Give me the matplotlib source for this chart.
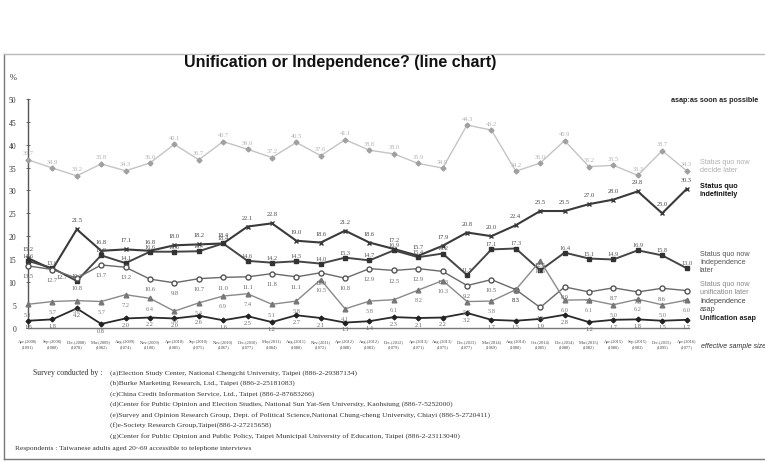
import matplotlib
matplotlib.use("Agg")
import matplotlib.pyplot as plt
from matplotlib.lines import Line2D

# ---------------- data ----------------
survey_dates = ["Apr.(2008)", "Sep.(2008)", "Dec.(2008)", "Mar.(2009)", "Aug.(2009)", "Nov.(2009)",
                "Apr.(2010)", "Sep.(2010)", "Nov.(2010)", "Dec.(2010)", "May(2011)", "Aug.(2011)",
                "Nov.(2011)", "Apr.(2012)", "Aug.(2012)", "Dec.(2012)", "Apr.(2013)", "Aug.(2013)",
                "Dec.(2013)", "Mar.(2014)", "Aug.(2014)", "Oct.(2014)", "Dec.(2014)", "Mar.(2015)",
                "Apr.(2015)", "Sep.(2015)", "Dec.(2015)", "Apr.(2016)"]
sample_sizes = ["(1091)", "(1080)", "(1078)", "(1082)", "(1074)", "(1100)", "(1085)", "(1075)",
                "(1067)", "(1077)", "(1084)", "(1080)", "(1072)", "(1088)", "(1083)", "(1079)",
                "(1071)", "(1075)", "(1077)", "(1069)", "(1080)", "(1085)", "(1088)", "(1082)",
                "(1080)", "(1083)", "(1095)", "(1077)"]

decide_later = [36.7, 34.9, 33.2, 35.8, 34.3, 36.0, 40.1, 36.7, 40.7, 39.0, 37.2, 40.5, 37.6, 41.1,
                38.8, 38.0, 35.9, 34.9, 44.3, 43.2, 34.2, 36.0, 40.9, 35.2, 35.5, 33.3, 38.7, 34.3]
indefinitely = [15.2, 12.7, 21.5, 16.8, 17.1, 16.8, 18.0, 18.2, 18.4, 22.1, 22.8, 19.0, 18.6, 21.2,
                18.6, 17.2, 15.7, 17.9, 20.8, 20.0, 22.4, 25.5, 25.5, 27.0, 28.0, 29.8, 25.0, 30.3]
indep_later = [14.6, 13.0, 10.2, 15.8, 14.1, 16.6, 16.6, 16.7, 18.4, 14.6, 14.2, 14.5, 14.0, 15.3,
               14.7, 16.9, 15.4, 16.2, 11.5, 17.1, 17.3, 12.5, 16.4, 15.1, 14.9, 16.9, 15.8, 13.0]
unif_later = [13.5, 12.7, 10.8, 13.7, 13.2, 10.6, 9.8, 10.7, 11.0, 11.1, 11.8, 11.1, 12.0, 10.8,
              12.9, 12.5, 12.9, 12.3, 9.2, 10.5, 8.3, 4.4, 8.9, 7.8, 8.7, 7.8, 8.6, 8.1]
indep_asap = [5.1, 5.7, 5.9, 5.7, 7.2, 6.4, 3.6, 5.4, 6.9, 7.4, 5.1, 5.8, 10.5, 4.1,
              5.8, 6.1, 8.2, 10.3, 5.7, 5.8, 8.3, 14.6, 6.0, 6.1, 5.0, 6.2, 5.0, 6.0]
unif_asap = [1.5, 1.8, 4.2, 0.8, 2.0, 2.2, 2.0, 2.6, 1.6, 2.5, 1.2, 2.7, 2.1, 1.1,
             1.4, 2.3, 2.1, 2.2, 3.2, 1.7, 1.5, 1.9, 2.8, 1.2, 1.7, 1.8, 1.5, 1.7]

# ---------------- figure ----------------
W, H = 765, 464
fig = plt.figure(figsize=(W / 100, H / 100), dpi=100)
fig.patch.set_facecolor("white")

def fx(px):
    return px / W

def fy(py):
    return 1 - py / H

x0, x1 = 28, 689
y0, y1 = 328.6, 100
ax = fig.add_axes([fx(x0), fy(y0), fx(x1) - fx(x0), fy(y1) - fy(y0)])
ax.set_xlim(0, 27.1)
ax.set_ylim(0, 50)
for s in ["top", "right"]:
    ax.spines[s].set_visible(False)
ax.spines["left"].set_color("#555555")
ax.spines["bottom"].set_color("#777777")
ax.spines["left"].set_linewidth(1.0)
ax.spines["bottom"].set_linewidth(1.0)
ax.set_yticks(range(0, 51, 5))
ax.set_yticklabels([str(v) for v in range(0, 51, 5)], fontsize=5.5, family="Liberation Serif",
                   color="#333333")
ax.tick_params(axis="y", length=3, width=0.6, direction="inout", pad=7, colors="#555555")
ax.tick_params(axis="y", labelcolor="#333333")
n = len(survey_dates)
xs = list(range(n))
ax.set_xticks(xs)
ax.set_xticklabels([d + "\n" + s for d, s in zip(survey_dates, sample_sizes)], fontsize=3.2,
                   family="Liberation Serif", color="#444444", linespacing=1.3)
ax.tick_params(axis="x", length=0, pad=8)
ax.patch.set_alpha(0)

# label placement overrides (index -> offset in points) for crowded spots
series = [
    (decide_later, dict(color="#c4c4c4", lw=1.0, marker="D", ms=2.5, mfc="#a0a0a0", mec="#a0a0a0"), "#b0b0b0", (0, 5), {}),
    (indefinitely, dict(color="#3a3a3a", lw=1.5, marker="x", ms=3.5, mew=1.0), "#444444", (0, 6.8), {1: (7, -5)}),
    (indep_later, dict(color="#454545", lw=1.4, marker="s", ms=3.2, mfc="#333333", mec="#333333"), "#555555", (0, 4), {}),
    (unif_later, dict(color="#6a6a6a", lw=1.0, marker="o", ms=3.6, mfc="white", mec="#555555"), "#666666", (0, -7), {}),
    (indep_asap, dict(color="#8a8a8a", lw=1.0, marker="^", ms=3.4, mfc="#777777", mec="#777777"), "#7a7a7a", (0, -7), {}),
    (unif_asap, dict(color="#2a2a2a", lw=1.3, marker="D", ms=2.4, mfc="#222222", mec="#222222"), "#666666", (0, -4.5), {}),
]
for vals, style, lcol, off, special in series:
    ax.plot(xs, vals, clip_on=False, zorder=3, **style)
    for xi, v in zip(xs, vals):
        ax.annotate(f"{v:.1f}", (xi, v), xytext=special.get(xi, off), textcoords="offset points",
                    ha="center", va="center", fontsize=4.6, family="Liberation Serif",
                    color=lcol, zorder=4)

# ---------------- texts ----------------
fig.text(fx(10), fy(78), "%", fontsize=6, family="Liberation Serif", color="#333333",
         ha="left", va="center")
fig.text(fx(340), fy(62), "Unification or Independence? (line chart)", fontsize=11.5,
         fontweight="bold", family="Liberation Sans", ha="center", va="center", color="#111111")
fig.text(fx(671), fy(101), "asap:as soon as possible", fontsize=5.2, fontweight="bold",
         family="Liberation Sans", ha="left", va="center", color="#222222")

legend_items = [
    (167, "Status quo now\ndecide later", "#b0b0b0", "normal"),
    (190, "Status quo\nindefinitely", "#111111", "bold"),
    (262, "Status quo now\nIndependence\nlater", "#555555", "normal"),
    (289, "Status quo now\nunification later", "#888888", "normal"),
    (306, "Independence\nasap", "#444444", "normal"),
    (319, "Unification asap", "#222222", "bold"),
]
for yy, txt, col, wt in legend_items:
    fig.text(fx(700), fy(yy), txt, fontsize=5.2, family="Liberation Sans", color=col,
             fontweight=wt, ha="left", va="center", linespacing=1.2)
fig.text(fx(701), fy(347), "effective sample size", fontsize=5.0, family="Liberation Sans",
         color="#333333", style="italic", ha="left", va="center")

fig.text(fx(33), fy(373), "Survey conducted by :", fontsize=5.6, family="Liberation Serif",
         ha="left", va="center", color="#333333")
sources = [
    "(a)Election Study Center, National Chengchi University, Taipei (886-2-29387134)",
    "(b)Burke Marketing Research, Ltd., Taipei (886-2-25181083)",
    "(c)China Credit Information Service, Ltd., Taipei (886-2-87683266)",
    "(d)Center for Public Opinion and Election Studies, National Sun Yat-Sen University, Kaohsiung (886-7-5252000)",
    "(e)Survey and Opinion Research Group, Dept. of Political Science,National Chung-cheng University, Chiayi (886-5-2720411)",
    "(f)e-Society Research Group,Taipei(886-2-27215658)",
    "(g)Center for Public Opinion and Public Policy, Taipei Municipal University of Education, Taipei (886-2-23113040)",
]
for i, s in enumerate(sources):
    fig.text(fx(110), fy(373 + i * 10.5), s, fontsize=5.4, family="Liberation Serif",
             ha="left", va="center", color="#333333")
fig.text(fx(15), fy(449), "Respondents : Taiwanese adults aged 20~69 accessible to telephone interviews",
         fontsize=5.4, family="Liberation Serif", ha="left", va="center", color="#333333")

# outer frame
frame_col = "#777777"
fig.add_artist(Line2D([fx(4), fx(4)], [fy(55), fy(460)], color=frame_col, lw=1.0))
fig.add_artist(Line2D([fx(4), fx(765)], [fy(55), fy(55)], color="#bbbbbb", lw=1.0))
fig.add_artist(Line2D([fx(4), fx(765)], [fy(460), fy(460)], color=frame_col, lw=1.0))

fig.savefig("out.png", dpi=100, facecolor="white")
